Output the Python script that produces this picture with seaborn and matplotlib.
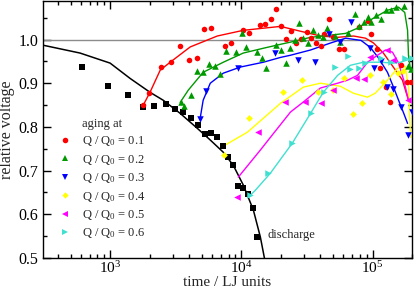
import numpy as np
import pandas as pd
import matplotlib
matplotlib.use("Agg")
import matplotlib.pyplot as plt
from matplotlib.lines import Line2D
from matplotlib.ticker import MultipleLocator, LogLocator
import seaborn as sns

# discharge curve and data
discharge_t = [611, 966, 1372, 1786, 2168, 2675, 3133, 3605, 4150, 4695, 5313, 5905, 6560,
               7290, 7960, 8690, 9490, 10350, 11300, 12350, 13250]
discharge_v = [0.937, 0.893, 0.873, 0.845, 0.847, 0.852, 0.841, 0.834, 0.820, 0.804, 0.783, 0.786,
               0.776, 0.756, 0.731, 0.712, 0.664, 0.660, 0.646, 0.614, 0.548]
discharge_fit_t = [308, 590, 1000, 1420, 2020, 2540, 3420, 4610, 5800, 7290, 8690, 10350, 12350, 13970, 15000]
discharge_fit_v = [0.987, 0.969, 0.946, 0.911, 0.879, 0.861, 0.831, 0.797, 0.770, 0.742, 0.712, 0.667,
                   0.610, 0.548, 0.500]

# aging at Q/Q0 = 0.1
red_t = [1790, 1990, 2450, 2920, 3420, 4010, 4610, 5220, 5900, 7550, 8400, 10350, 11500, 14000, 15200,
         16900, 18500, 20200, 22100, 24100, 26300, 28700, 31400, 34200, 37400, 40800, 43000, 47000,
         50400, 56000, 60100, 78200, 91600, 98200, 109000, 115000, 126000, 137000, 164000, 182000, 195000]
red_v = [0.850, 0.877, 0.937, 0.948, 0.985, 0.953, 0.957, 1.024, 1.026, 0.985, 0.992, 1.021, 1.014, 1.033,
         1.035, 1.046, 1.069, 1.030, 1.001, 1.019, 0.992, 1.001, 1.017, 1.003, 0.992, 0.985, 1.012, 1.046,
         1.005, 0.978, 0.978, 1.028, 1.042, 1.012, 0.978, 0.934, 0.891, 0.857, 0.941, 0.902, 0.902]
red_fit_t = [1790, 2020, 2410, 2870, 4080, 6560, 10350, 19880, 28200, 40100, 54200, 71600, 88500,
             101800, 121000, 144000, 169000, 188000]
red_fit_v = [0.850, 0.880, 0.930, 0.948, 0.983, 1.008, 1.021, 1.030, 1.019, 1.008, 1.005, 1.008, 1.003,
             0.992, 0.969, 0.937, 0.907, 0.861]

# 0.2
green_t = [3480, 3670, 4150, 4610, 5120, 5700, 6340, 6920, 7690, 9170, 10200, 10900, 13250, 14470, 15510,
           18490, 20190, 22060, 23700, 25800, 27700, 29700, 32400, 35400, 38600, 42100, 45200, 52000,
           56900, 65600, 72900, 78200, 85400, 91600, 98200, 107000, 116900, 125700, 137200, 149800,
           174700, 187600, 195100]
green_v = [0.856, 0.847, 0.873, 0.927, 0.925, 0.943, 0.939, 0.921, 0.973, 0.971, 1.014, 0.982, 0.971,
           0.957, 0.934, 0.987, 0.976, 0.946, 0.980, 0.998, 1.037, 1.003, 0.992, 1.021, 1.010, 1.005,
           1.026, 1.008, 0.994, 1.014, 1.058, 1.030, 1.040, 1.051, 1.040, 1.056, 1.046, 1.067, 1.067,
           1.074, 1.076, 0.939, 0.932]
green_fit_t = [3420, 3940, 5120, 7290, 10350, 14720, 19880, 23700, 33700, 47900, 62400, 76900, 101800,
               130000, 158000, 176000, 185000, 188000, 195000]
green_fit_v = [0.856, 0.884, 0.925, 0.948, 0.969, 0.980, 0.989, 0.994, 1.005, 1.010, 1.014, 1.026, 1.049,
               1.067, 1.074, 1.062, 1.021, 0.964, 0.930]

# 0.3
blue_t = [4860, 5410, 9480, 18200, 27200, 36700, 47000, 56900, 68900, 96100, 103500, 115100, 130000,
          144500, 163600, 185000, 201000]
blue_v = [0.817, 0.882, 0.934, 0.969, 0.953, 0.948, 1.012, 0.994, 1.040, 0.980, 0.934, 0.950, 0.891,
          0.886, 0.845, 0.781, 0.834]
blue_fit_t = [4860, 5120, 5800, 7290, 9840, 14720, 19880, 23700, 33700, 47900, 62400, 81700, 96100,
              110300, 130000, 144500, 158000, 173000, 185000]
blue_fit_v = [0.820, 0.861, 0.900, 0.923, 0.937, 0.948, 0.959, 0.964, 0.976, 0.992, 1.003, 0.998, 0.982,
              0.959, 0.925, 0.891, 0.861, 0.831, 0.808]

# 0.4
yellow_t = [7420, 11500, 20700, 29200, 38600, 49600, 60100, 71600, 83200, 96100, 121000, 137200, 155100, 170000]
yellow_v = [0.735, 0.820, 0.879, 0.907, 0.879, 0.884, 0.911, 0.829, 0.854, 0.918, 0.902, 0.875, 0.923, 0.927]
yellow_fit_t = [7290, 11140, 19880, 29700, 40100, 56900, 71600, 91600, 104800, 125700, 155100, 177000,
                188000, 191500, 195100]
yellow_fit_v = [0.756, 0.788, 0.854, 0.891, 0.900, 0.893, 0.877, 0.868, 0.877, 0.902, 0.934, 0.939,
                0.891, 0.831, 0.776]

# 0.5
magenta_t = [9320, 13500, 21600, 30700, 40800, 50400, 74400, 85400, 96100, 130000, 144500, 185000]
magenta_v = [0.639, 0.788, 0.857, 0.857, 0.854, 0.884, 0.911, 0.909, 0.959, 0.976, 0.953, 0.861]
magenta_fit_t = [9480, 13970, 16650, 23700, 29700, 40100, 54200, 64600, 76900, 91600, 109100, 125700,
                 142000, 158000, 173000, 188000]
magenta_fit_v = [0.685, 0.747, 0.776, 0.834, 0.857, 0.889, 0.900, 0.907, 0.918, 0.948, 0.964, 0.976,
                 0.971, 0.946, 0.907, 0.861]

# 0.6
cyan_t = [11750, 16100, 24500, 33700, 42800, 52000, 64600, 67800, 78200, 86900, 115100, 137200, 177000, 201000]
cyan_v = [0.644, 0.694, 0.763, 0.831, 0.879, 0.937, 0.962, 0.932, 0.934, 0.946, 0.957, 0.948, 0.957, 0.957]
cyan_fit_t = [11300, 12790, 16650, 24500, 33700, 42100, 54200, 67800, 85400, 115100, 144500, 163600, 201000]
cyan_fit_v = [0.639, 0.655, 0.694, 0.763, 0.831, 0.879, 0.918, 0.941, 0.948, 0.948, 0.946, 0.948, 0.957]

labels = ["Q / Q$_0$ = 0.1", "Q / Q$_0$ = 0.2", "Q / Q$_0$ = 0.3",
          "Q / Q$_0$ = 0.4", "Q / Q$_0$ = 0.5", "Q / Q$_0$ = 0.6"]

sns.set_style("ticks")
plt.rcParams["font.family"] = ["Liberation Serif", "DejaVu Serif"]
plt.rcParams["mathtext.fontset"] = "custom"
plt.rcParams["mathtext.rm"] = "Liberation Serif"
plt.rcParams["mathtext.it"] = "Liberation Serif:italic"
plt.rcParams["mathtext.bf"] = "Liberation Serif:bold"

fig = plt.figure(figsize=(4.15, 2.92), dpi=100)
ax = fig.add_axes([0.1036, 0.1164, 0.8892, 0.8800])

ax.axhline(1.0, color="#8c8c8c", lw=1.0, zorder=1)

series = [
    (red_t, red_v, red_fit_t, red_fit_v, "#ff0000", "o", 16),
    (green_t, green_v, green_fit_t, green_fit_v, "#009a00", "^", 22),
    (blue_t, blue_v, blue_fit_t, blue_fit_v, "#0000ff", "v", 22),
    (yellow_t, yellow_v, yellow_fit_t, yellow_fit_v, "#ffff00", "D", 12),
    (magenta_t, magenta_v, magenta_fit_t, magenta_fit_v, "#ff00ff", "<", 22),
    (cyan_t, cyan_v, cyan_fit_t, cyan_fit_v, "#40e0d0", ">", 22),
]

sns.lineplot(x=discharge_fit_t, y=discharge_fit_v, color="black", lw=1.1, sort=False,
             estimator=None, ax=ax, zorder=2)
sns.scatterplot(x=discharge_t, y=discharge_v, color="black", marker="s", s=14, linewidth=0,
                ax=ax, zorder=3)

for t, v, ft, fv, c, m, s in series:
    sns.lineplot(x=ft, y=fv, color=c, lw=1.0, sort=False, estimator=None, ax=ax, zorder=2)
    sns.scatterplot(x=t, y=v, color=c, marker=m, s=s, linewidth=0, ax=ax, zorder=3)

ax.set_xscale("log")
ax.set_xlim(308, 2.0e5)
ax.set_ylim(0.5, 1.088)
ax.yaxis.set_major_locator(MultipleLocator(0.1))
ax.yaxis.set_minor_locator(MultipleLocator(0.05))
ax.xaxis.set_major_locator(LogLocator(base=10))
ax.xaxis.set_minor_locator(LogLocator(base=10, subs=np.arange(2, 10)))
ax.yaxis.set_major_formatter(matplotlib.ticker.FormatStrFormatter("%.1f"))

ax.tick_params(which="both", direction="in", top=True, right=True, labelsize=11.5, colors="black")
ax.tick_params(which="major", length=6, width=1)
ax.tick_params(which="minor", length=3, width=1)
ax.tick_params(axis="x", pad=1.5, labelsize=11)
for sp in ax.spines.values():
    sp.set_color("black")
    sp.set_linewidth(1.0)

ax.set_xlabel("time / LJ units", fontsize=11)
ax.xaxis.set_label_coords(0.5, -0.07)
ax.set_ylabel("relative voltage", fontsize=11.5, labelpad=2)

ax.text(1.58e4, 0.552, "discharge", fontsize=9, va="center", ha="left")

handles = [Line2D([], [], ls="none", marker=m, color=c, markersize=4 if m != "D" else 3.2,
                  markeredgewidth=0) for _, _, _, _, c, m, _ in series]
ax.legend(handles, labels, title="aging at", loc="lower left", bbox_to_anchor=(0.02, 0.035),
          frameon=False, fontsize=9, title_fontsize=9, handlelength=1.0, handletextpad=0.8,
          labelspacing=0.35, borderpad=0.2)

fig.savefig("out.png", dpi=100)
